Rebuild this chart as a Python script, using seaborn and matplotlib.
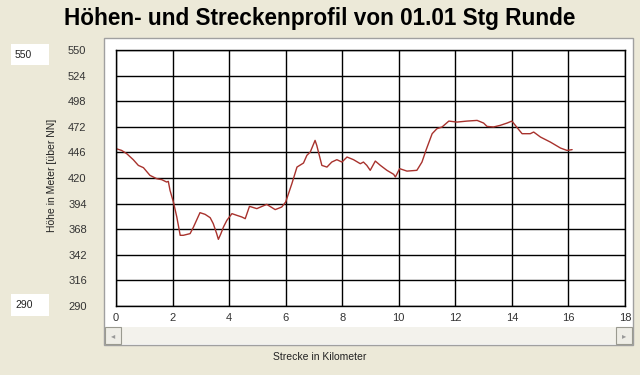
import numpy as np
import pandas as pd
import matplotlib
matplotlib.use("Agg")
import matplotlib.pyplot as plt
import seaborn as sns
from matplotlib.patches import Rectangle

# ------------------------------------------------------------
# Daten: Höhenprofil
# ------------------------------------------------------------
strecke_km = [0.0, 0.2, 0.38, 0.61, 0.79, 0.97, 1.2, 1.44, 1.62, 1.79, 1.85,
              1.91, 2.03, 2.15, 2.27, 2.38, 2.62, 2.74, 2.97, 3.15, 3.33,
              3.44, 3.56, 3.62, 3.71, 3.8, 3.92, 4.1, 4.27, 4.45, 4.57,
              4.72, 4.98, 5.33, 5.63, 5.86, 6.0, 6.22, 6.4, 6.63, 6.75,
              6.87, 7.04, 7.1, 7.28, 7.46, 7.63, 7.81, 7.99, 8.17, 8.4,
              8.64, 8.75, 8.87, 8.99, 9.17, 9.35, 9.58, 9.82, 9.88, 10.03,
              10.29, 10.64, 10.82, 10.97, 11.18, 11.35, 11.53, 11.77, 12.06,
              12.41, 12.77, 13.0, 13.12, 13.35, 13.59, 13.83, 14.0, 14.12,
              14.36, 14.65, 14.77, 15.01, 15.36, 15.72, 15.95, 16.13]
hoehe_m = [449.8, 448, 444.7, 438.6, 432.8, 430.5, 422.7, 419.3, 418.3, 415.9,
           416.6, 407.5, 395.6, 380.4, 361.8, 361.8, 363.5, 370.2, 384.8,
           383.1, 379.7, 373.6, 363.5, 357.7, 363.5, 370.2, 377, 383.8,
           382.1, 380.4, 378.7, 391.2, 388.9, 393.2, 387.9, 390.5, 395.6,
           414.3, 431.1, 435.2, 443, 446.4, 458.2, 453.1, 432.8, 431.1,
           436.2, 438.6, 436.2, 441.3, 438.6, 434.5, 436.2, 432.8, 427.8,
           437.2, 432.8, 427.8, 423.7, 421, 429.5, 427, 427.8, 436.2, 448.8,
           465, 470.1, 471.8, 477.8, 476.8, 477.8, 478.5, 475.8, 472.4,
           471.8, 473.5, 475.8, 477.8, 473.5, 465, 465, 466.7, 461.6, 456.5,
           450.4, 448, 448.8]

x_ticks = list(range(0, 19, 2))
y_ticks = list(range(290, 551, 26))

df = pd.DataFrame({"km": strecke_km, "hoehe": hoehe_m})

# ------------------------------------------------------------
# Figur
# ------------------------------------------------------------
sns.set_theme(style="white")
plt.rcParams['font.family'] = ['Liberation Sans', 'DejaVu Sans']

W, H = 640, 375
bg = "#ECE9D8"
fig = plt.figure(figsize=(6.4, 3.75), dpi=100, facecolor=bg)


def px_rect(x0, y0, x1, y1, **kw):
    # Rechteck in Pixelkoordinaten (oben links Ursprung)
    r = Rectangle((x0 / W, 1 - y1 / H), (x1 - x0) / W, (y1 - y0) / H,
                  transform=fig.transFigure, **kw)
    fig.patches.append(r)
    return r


# weißes Panel mit Rahmen
px_rect(104, 38, 633, 345, facecolor="white", edgecolor="#A0A0A0", lw=1.0)
# Scrollbar
px_rect(105, 327, 632, 344, facecolor="#F3F2EC", edgecolor="none")
px_rect(105, 327, 121, 344, facecolor="#EEEDE6", edgecolor="#9A9A90", lw=0.8)
px_rect(616, 327, 632, 344, facecolor="#EEEDE6", edgecolor="#9A9A90", lw=0.8)
fig.text(113 / W, 1 - 336 / H, "◂", fontsize=6, color="#999999",
         ha="center", va="center", family=["DejaVu Sans"])
fig.text(624 / W, 1 - 336 / H, "▸", fontsize=6, color="#999999",
         ha="center", va="center", family=["DejaVu Sans"])

# weiße Textfelder links
px_rect(11, 44, 49, 65, facecolor="white", edgecolor="none")
px_rect(11, 294, 49, 316, facecolor="white", edgecolor="none")
fig.text(15 / W, 1 - 54.5 / H, "550", fontsize=7.5, color="#222222",
         va="center", ha="left")
fig.text(15 / W, 1 - 305 / H, "290", fontsize=7.5, color="#222222",
         va="center", ha="left")

# Achse
x0, x1, y0, y1 = 116, 625, 50, 306
ax = fig.add_axes([x0 / W, 1 - y1 / H, (x1 - x0) / W, (y1 - y0) / H])
ax.set_zorder(5)
ax.set_facecolor("white")

sns.lineplot(data=df, x="km", y="hoehe", color="#A8322D", lw=1.0, ax=ax)

ax.set_xlim(0, 18)
ax.set_ylim(290, 550)
ax.set_xticks(x_ticks)
ax.set_yticks(y_ticks)
ax.grid(True, color="black", lw=1.0)
ax.set_axisbelow(True)
for s in ax.spines.values():
    s.set_color("black")
    s.set_linewidth(1.0)
ax.tick_params(axis="both", length=0, labelsize=8, colors="#333333")
ax.tick_params(axis="x", pad=5)
ax.tick_params(axis="y", pad=34.5)
for lbl in ax.get_yticklabels():
    lbl.set_horizontalalignment("left")
ax.set_xlabel("")
ax.set_ylabel("")

fig.text(52 / W, 1 - 175 / H, "Höhe in Meter [über NN]", rotation=90,
         fontsize=7.5, color="#222222", ha="center", va="center")
fig.text(320 / W, 1 - 357 / H, "Strecke in Kilometer", fontsize=7.5,
         color="#222222", ha="center", va="center")
fig.text(320 / W, 1 - 18 / H, "Höhen- und Streckenprofil von 01.01 Stg Runde",
         fontsize=16.3, fontweight="bold", color="black",
         ha="center", va="center")

fig.savefig("out.png", dpi=100, facecolor=bg)
